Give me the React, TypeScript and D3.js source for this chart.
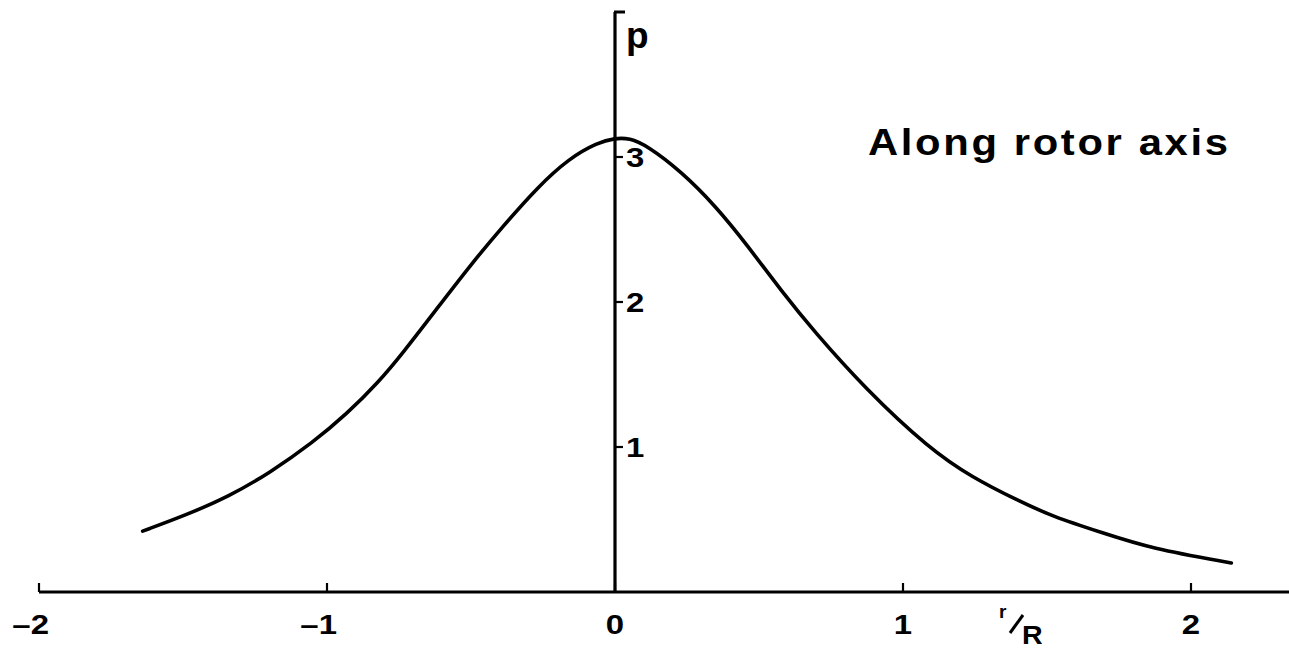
import React from "react";
import * as d3 from "d3";

// Pressure profile p along the rotor axis, sampled at r/R positions
const rOverR = [
  -1.64, -1.49, -1.34, -1.2, -1.05, -0.93, -0.82, -0.74, -0.62, -0.5, -0.39,
  -0.27, -0.16, -0.06, 0.0, 0.05, 0.11, 0.23, 0.35, 0.46, 0.58, 0.69, 0.87,
  1.09, 1.24, 1.4, 1.52, 1.69, 1.86, 2.14,
];
const pValues = [
  0.42, 0.53, 0.66, 0.82, 1.03, 1.23, 1.45, 1.64, 1.95, 2.26, 2.52, 2.79,
  2.99, 3.1, 3.13, 3.13, 3.08, 2.9, 2.66, 2.39, 2.07, 1.8, 1.4, 0.99,
  0.79, 0.63, 0.52, 0.41, 0.3, 0.2,
];

const xTicks = [-2, -1, 0, 1, 2];
const yTicks = [1, 2, 3];
const yTop = 4;
const title = "Along rotor axis";

const W = 1289;
const H = 650;
const FONT = "'Liberation Sans', Arial, Helvetica, sans-serif";
const WIDE = 1.22; // horizontal stretch of the bold lettering

export default function App() {
  const x = d3.scaleLinear().domain([-2, 2]).range([39, 1191]);
  const y = d3.scaleLinear().domain([0, 4]).range([592, 12]);

  const points: [number, number][] = rOverR.map((r, i) => [r, pValues[i]]);
  const line = d3
    .line<[number, number]>()
    .x((d) => x(d[0]))
    .y((d) => y(d[1]))
    .curve(d3.curveBasis);

  const x0 = x(0);
  const y0 = y(0);

  return (
    <svg
      width={W}
      height={H}
      viewBox={`0 0 ${W} ${H}`}
      style={{ position: "absolute", left: 0, top: 0, background: "#fff" }}
      fontFamily={FONT}
      fontWeight="bold"
    >
      {/* horizontal axis */}
      <line x1={x(-2)} x2={W} y1={y0} y2={y0} stroke="#000" strokeWidth={3.2} />
      {xTicks.map((t) => (
        <line
          key={`xt${t}`}
          x1={x(t)}
          x2={x(t)}
          y1={y0}
          y2={y0 - 9}
          stroke="#000"
          strokeWidth={2.2}
        />
      ))}
      {xTicks.map((t) => (
        <g key={`xl${t}`} transform={`translate(${t < 0 ? x(t) + 10 : x(t)},634) scale(${WIDE},1)`}>
          <text fontSize={27} textAnchor={t < 0 ? "end" : "middle"}>
            {t < 0 ? `\u2013${Math.abs(t)}` : `${t}`}
          </text>
        </g>
      ))}

      {/* vertical axis */}
      <line x1={x0} x2={x0} y1={y0} y2={y(yTop)} stroke="#000" strokeWidth={3.2} />
      <line
        x1={x0 - 1}
        x2={x0 + 10}
        y1={y(yTop)}
        y2={y(yTop)}
        stroke="#000"
        strokeWidth={3}
      />
      {yTicks.map((t) => (
        <line
          key={`yt${t}`}
          x1={x0}
          x2={x0 + 8}
          y1={y(t)}
          y2={y(t)}
          stroke="#000"
          strokeWidth={2.2}
        />
      ))}
      {yTicks.map((t) => (
        <g key={`yl${t}`} transform={`translate(${x0 + 11},${y(t)}) scale(${WIDE},1)`}>
          <text dy="0.36em" fontSize={27} textAnchor="start">
            {t}
          </text>
        </g>
      ))}

      {/* axis names */}
      <text x={626} y={48} fontSize={37}>
        p
      </text>
      <g>
        <text x={999} y={618} fontSize={19}>
          r
        </text>
        <line x1={1010} x2={1023} y1={633} y2={615} stroke="#000" strokeWidth={3} />
        <g transform={`translate(1022,644) scale(1.1,1)`}>
          <text fontSize={26}>R</text>
        </g>
      </g>

      {/* profile curve */}
      <path
        d={line(points) ?? ""}
        fill="none"
        stroke="#000"
        strokeWidth={3.6}
        strokeLinecap="round"
        strokeLinejoin="round"
      />

      {/* panel title */}
      <g transform={`translate(868,155) scale(1.16,1)`}>
        <text fontSize={36} textLength={360 / 1.16} lengthAdjust="spacing">
          {title}
        </text>
      </g>
    </svg>
  );
}
